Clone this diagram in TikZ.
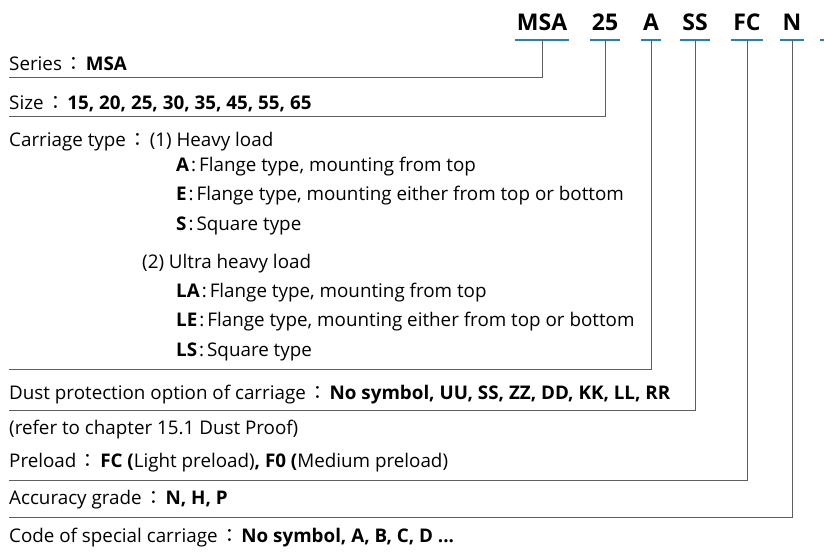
\documentclass[tikz,border=0pt]{standalone}
\usepackage{fontspec}
\setmainfont{Open Sans}
\newfontfamily\cjk{Noto Sans CJK TC}
\usetikzlibrary{calc}
\definecolor{codeblue}{RGB}{30,128,200}
\definecolor{linegray}{RGB}{95,95,95}
\newcommand{\fc}{\hspace{2.5pt}{\cjk ：}\hspace{2.5pt}}
\tikzset{
  code/.style={font=\fontsize{23}{26}\selectfont\bfseries, inner xsep=2pt, inner ysep=0pt, anchor=base},
  row/.style={font=\fontsize{18.8}{22}\selectfont, inner sep=0pt, anchor=base west},
  uline/.style={draw=codeblue, line width=2pt},
  conn/.style={draw=linegray, line width=1pt},
}
\begin{document}
\begin{tikzpicture}[x=1pt,y=-1pt]
\useasboundingbox (0,0) rectangle (824,554);
% header codes
\node[code] (msa) at (542,30) {MSA};
\node[code] (sz)  at (605,30) {25};
\node[code] (ct)  at (651,30) {A};
\node[code] (dp)  at (695,30) {SS};
\node[code] (pl)  at (747,30) {FC};
\node[code] (ac)  at (792,30) {N};
\foreach \n in {msa,sz,ct,dp,pl,ac}{
  \draw[uline] ($(\n.base west)+(0,10)$) -- ($(\n.base east)+(0,10)$);
  \coordinate (\n U) at ($(\n.base)+(0,10)$);
}
\coordinate (nextA) at (820,40);
\coordinate (nextB) at (826,40);
\draw[uline] (nextA) -- (nextB);
% rows
\node[row] (r1)  at (9,70)  {Series\fc\textbf{MSA}};
\node[row] (r2)  at (9,109) {Size\fc\textbf{15, 20, 25, 30, 35, 45, 55, 65}};
\node[row] (r3)  at (9,146) {Carriage type\fc(1) Heavy load};
\node[row] (r4)  at (176,171) {\textbf{A}\hspace{2pt}:\hspace{3pt}Flange type, mounting from top};
\node[row] (r5)  at (176,200) {\textbf{E}\hspace{2pt}:\hspace{3pt}Flange type, mounting either from top or bottom};
\node[row] (r6)  at (176,230) {\textbf{S}\hspace{2pt}:\hspace{3pt}Square type};
\node[row] (r7)  at (142,268) {(2) Ultra heavy load};
\node[row] (r8)  at (176,297) {\textbf{LA}\hspace{2pt}:\hspace{3pt}Flange type, mounting from top};
\node[row] (r9)  at (176,326) {\textbf{LE}\hspace{2pt}:\hspace{3pt}Flange type, mounting either from top or bottom};
\node[row] (r10) at (176,356) {\textbf{LS}\hspace{2pt}:\hspace{3pt}Square type};
\node[row] (r11) at (9,399) {Dust protection option of carriage\fc\textbf{No symbol, UU, SS, ZZ, DD, KK, LL, RR}};
\node[row] (r12) at (9,434) {(refer to chapter 15.1 Dust Proof)};
\node[row] (r13) at (9,467) {Preload\fc\textbf{FC (}Light preload)\textbf{, F0 (}Medium preload)};
\node[row] (r14) at (9,504) {Accuracy grade\fc\textbf{N, H, P}};
\node[row] (r15) at (9,542) {Code of special carriage\fc\textbf{No symbol, A, B, C, D ...}};
% connector ends
\coordinate (e1) at (9,77);
\coordinate (e2) at (9,116);
\coordinate (e3) at (9,369);
\coordinate (e4) at (9,410);
\coordinate (e5) at (9,480);
\coordinate (e6) at (9,517);
\draw[conn] (msaU) |- (e1);
\draw[conn] (szU) |- (e2);
\draw[conn] (ctU) |- (e3);
\draw[conn] (dpU) |- (e4);
\draw[conn] (plU) |- (e5);
\draw[conn] (acU) |- (e6);
\end{tikzpicture}
\end{document}
